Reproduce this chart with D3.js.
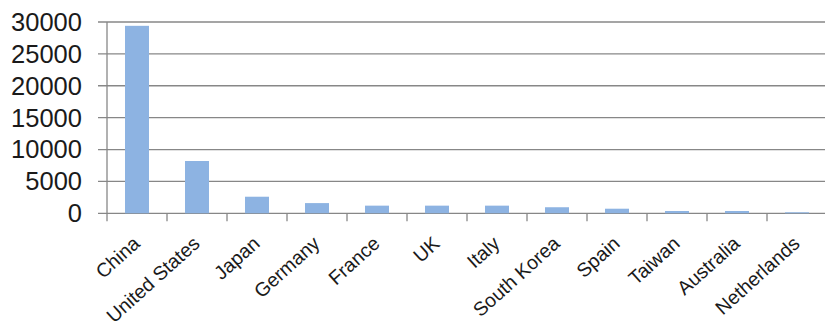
<!DOCTYPE html>
<html>
<head>
<meta charset="utf-8">
<script src="https://cdn.jsdelivr.net/npm/d3@7"></script>
<style>
  html, body { margin: 0; padding: 0; background: #fff; }
  svg { display: block; }
</style>
</head>
<body>
<svg id="chart" width="825" height="326"></svg>
<script>
// Countries and their values
const countries = ["China", "United States", "Japan", "Germany", "France", "UK",
  "Italy", "South Korea", "Spain", "Taiwan", "Australia", "Netherlands"];
const values = [29400, 8200, 2600, 1600, 1200, 1200, 1200, 950, 720, 360, 360, 160];
const yTicks = [0, 5000, 10000, 15000, 20000, 25000, 30000];

const svg = d3.select("#chart");
const plotLeft = 107, plotRight = 827, plotTop = 22, plotBottom = 213.3;
const gridColor = "#878787";

const x = d3.scaleBand().domain(countries).range([plotLeft, plotRight]).paddingInner(0.6).paddingOuter(0.3);
const y = d3.scaleLinear().domain([0, 30000]).range([plotBottom, plotTop]);

// horizontal gridlines, extended left as outside ticks
svg.append("g").selectAll("line").data(yTicks).join("line")
  .attr("x1", plotLeft - 9).attr("x2", plotRight)
  .attr("y1", d => y(d)).attr("y2", d => y(d))
  .attr("stroke", gridColor).attr("stroke-width", 1.3);

// y-axis line
svg.append("line").attr("x1", plotLeft).attr("x2", plotLeft).attr("y1", plotTop).attr("y2", plotBottom)
  .attr("stroke", gridColor).attr("stroke-width", 1.3);

// category boundary ticks below baseline
const step = (plotRight - plotLeft) / countries.length;
svg.append("g").selectAll("line").data(d3.range(countries.length + 1)).join("line")
  .attr("x1", i => plotLeft + i * step).attr("x2", i => plotLeft + i * step)
  .attr("y1", plotBottom).attr("y2", plotBottom + 8)
  .attr("stroke", gridColor).attr("stroke-width", 1.3);

// bars
svg.append("g").selectAll("rect").data(values).join("rect")
  .attr("x", (d, i) => x(countries[i]))
  .attr("width", x.bandwidth())
  .attr("y", d => y(d))
  .attr("height", d => plotBottom - y(d))
  .attr("fill", "#8db3e2");

// y tick labels
svg.append("g").selectAll("text").data(yTicks).join("text")
  .attr("x", 82).attr("y", d => y(d))
  .attr("dy", "0.35em")
  .attr("text-anchor", "end")
  .attr("font-family", "Liberation Sans, Arial, sans-serif")
  .attr("font-size", 25.5)
  .attr("fill", "#1a1a1a")
  .text(d => d);

// rotated category labels
svg.append("g").selectAll("text").data(countries).join("text")
  .attr("transform", d => `translate(${x(d) + x.bandwidth() / 2 + 4},${plotBottom + 32}) rotate(-42)`)
  .attr("text-anchor", "end")
  .attr("font-family", "Liberation Sans, Arial, sans-serif")
  .attr("font-size", 19.5)
  .attr("fill", "#1a1a1a")
  .text(d => d);
</script>
</body>
</html>
